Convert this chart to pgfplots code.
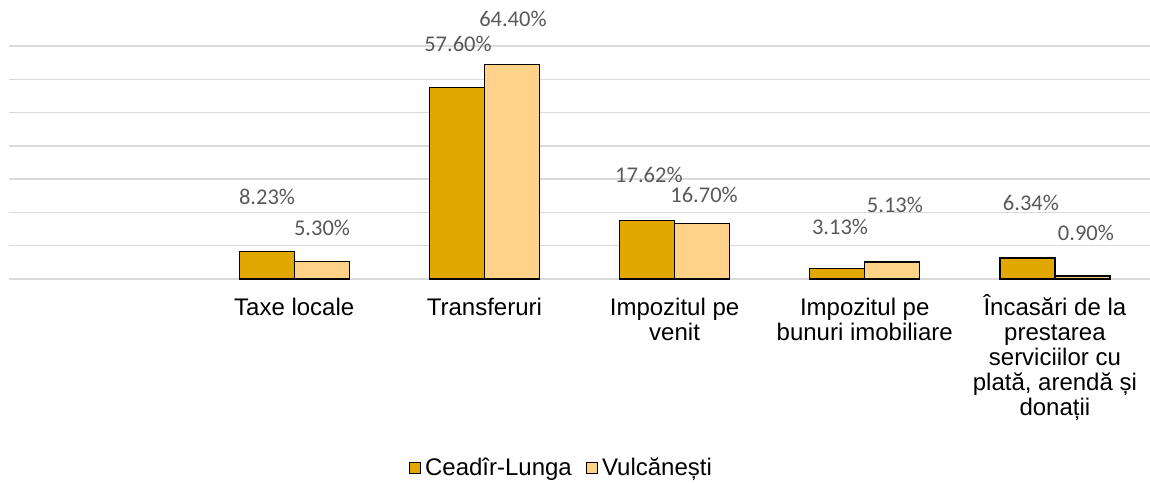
\documentclass[border=0pt]{standalone}
\usepackage{fontspec}
\setmainfont{Liberation Sans}
\newfontfamily\carlito{Carlito}
\usepackage{pgfplots}
\pgfplotsset{compat=1.18}
\definecolor{cdark}{RGB}{224,168,0}
\definecolor{clight}{RGB}{255,210,138}
\definecolor{gridc}{RGB}{217,217,217}
\definecolor{lblc}{RGB}{89,89,89}
\begin{document}
\begin{tikzpicture}
\begin{axis}[
 scale only axis, width=570.5pt, height=116.5pt,
 xmin=-0.5, xmax=5.5, ymin=0, ymax=70,
 ybar=0pt, bar width=27.5pt,
 axis line style={draw=none},
 ytick={0,10,...,70}, yticklabels={}, ymajorgrids,
 grid style={gridc, line width=0.75pt},
 major tick length=0pt,
 xtick={1,2,3,4,5},
 xticklabels={
  {\vphantom{Î}Taxe locale},
  {\vphantom{Î}Transferuri},
  {\vphantom{Î}Impozitul pe\\venit},
  {\vphantom{Î}Impozitul pe\\bunuri imobiliare},
  {\vphantom{Î}Încasări de la\\prestarea\\serviciilor cu\\plată, arendă și\\donații}},
 xticklabel style={align=center, font=\fontsize{12}{12.5}\selectfont, yshift=-4pt},
 clip=false,
 legend style={at={(rel axis cs:0.485,-0.811)}, anchor=center, draw=none,
   legend columns=2, font=\fontsize{12}{14}\selectfont,
   /tikz/every even column/.append style={column sep=5pt}},
 legend cell align=left,
]
\coordinate (ll) at (rel axis cs:0,0);
\addplot[fill=cdark, draw=black, line width=0.6pt,
  legend image code/.code={\draw[fill=cdark, draw=black, line width=0.6pt] (0pt,-2.75pt) rectangle (5.5pt,2.75pt);}]
  coordinates {(1,8.23) (2,57.60) (3,17.62) (4,3.13) (5,6.34)};
\addplot[fill=clight, draw=black, line width=0.6pt,
  legend image code/.code={\draw[fill=clight, draw=black, line width=0.6pt] (0pt,-2.75pt) rectangle (5.5pt,2.75pt);}]
  coordinates {(1,5.30) (2,64.40) (3,16.70) (4,5.13) (5,0.90)};
\legend{Ceadîr-Lunga, Vulcănești}
\begin{scope}[every node/.style={font=\carlito\fontsize{11.25}{12}\selectfont, text=lblc}]
\node at (axis cs:0.857,24.6) {8.23\%};
\node at (axis cs:1.146,15.3) {5.30\%};
\node at (axis cs:1.861,70.6) {57.60\%};
\node at (axis cs:2.150,78.1) {64.40\%};
\node at (axis cs:2.865,31.2) {17.62\%};
\node at (axis cs:3.155,25.2) {16.70\%};
\node at (axis cs:3.870,15.6) {3.13\%};
\node at (axis cs:4.159,22.2) {5.13\%};
\node at (axis cs:4.874,22.8) {6.34\%};
\node at (axis cs:5.163,13.8) {0.90\%};
\end{scope}
\end{axis}
\pgfresetboundingbox
\path ([shift={(-4.5pt,-102.5pt)}]ll) rectangle ([shift={(570.5pt,139.5pt)}]ll);
\end{tikzpicture}
\end{document}
